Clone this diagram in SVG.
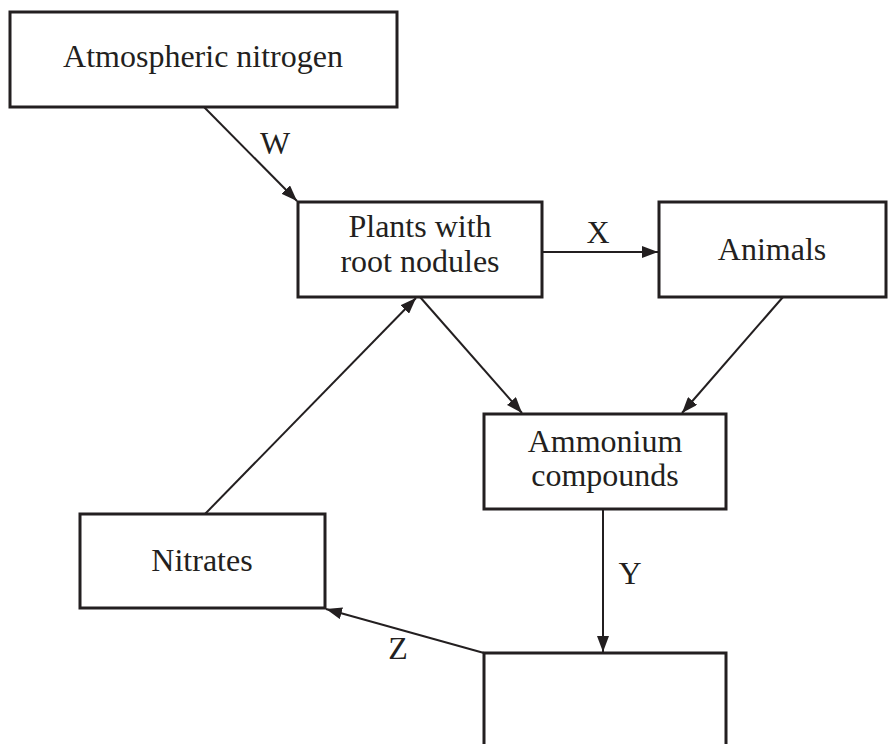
<svg xmlns="http://www.w3.org/2000/svg" width="891" height="744" viewBox="0 0 891 744">
<style>
.box{fill:#fff;stroke:#231f20;stroke-width:3}
.t{font-family:"Liberation Serif","Times New Roman",serif;font-size:32px;fill:#231f20;text-anchor:middle}
.c{stroke:#231f20;stroke-width:2;fill:none;marker-end:url(#ah)}
</style>
<defs>
<marker id="ah" viewBox="0 0 16 12" refX="16" refY="6" markerWidth="16" markerHeight="12" markerUnits="userSpaceOnUse" orient="auto">
<path d="M0,0 L16,6 L0,12 Z" fill="#231f20"/>
</marker>
</defs>
<rect width="891" height="744" fill="#fff"/>
<g id="connectors">
<line class="c" x1="204" y1="107" x2="297" y2="201"/>
<line class="c" x1="542" y1="252" x2="658" y2="252"/>
<line class="c" x1="420" y1="297" x2="522" y2="413"/>
<line class="c" x1="783" y1="297" x2="682" y2="413"/>
<line class="c" x1="205" y1="514" x2="416" y2="298"/>
<line class="c" x1="603" y1="510" x2="603" y2="652"/>
<line class="c" x1="484" y1="653" x2="326" y2="609"/>
<text class="t" x="275" y="154">W</text>
<text class="t" x="598" y="243">X</text>
<text class="t" x="630" y="584">Y</text>
<text class="t" x="398" y="659">Z</text>
</g>
<g id="atmospheric"><rect class="box" x="10" y="12" width="387" height="95"/><text class="t" x="203" y="67">Atmospheric nitrogen</text></g>
<g id="plants"><rect class="box" x="298" y="202" width="244" height="95"/><text class="t" x="420" y="237">Plants with</text><text class="t" x="420" y="272">root nodules</text></g>
<g id="animals"><rect class="box" x="659" y="202" width="227" height="95"/><text class="t" x="772" y="260">Animals</text></g>
<g id="ammonium"><rect class="box" x="484" y="414" width="242" height="95"/><text class="t" x="605" y="452">Ammonium</text><text class="t" x="605" y="486">compounds</text></g>
<g id="nitrates"><rect class="box" x="80" y="514" width="245" height="94"/><text class="t" x="202" y="571">Nitrates</text></g>
<g id="blank"><rect class="box" x="484" y="653" width="242" height="110"/></g>
</svg>
